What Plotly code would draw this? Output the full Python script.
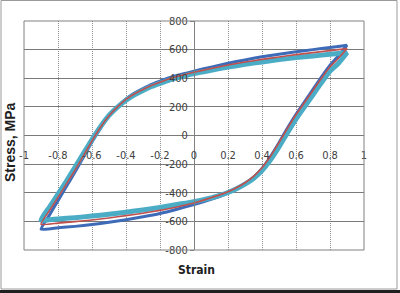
import plotly.graph_objects as go

# ---- data ----
x_up = [-0.9,-0.85,-0.8,-0.75,-0.7,-0.65,-0.6,-0.55,-0.5,-0.45,-0.4,-0.35,-0.3,-0.25,-0.2,-0.15,-0.1,0,0.1,0.2,0.3,0.4,0.5,0.6,0.7,0.8,0.9]
x_dn = [0.9,0.85,0.8,0.75,0.7,0.65,0.6,0.55,0.5,0.45,0.4,0.35,0.3,0.25,0.2,0.15,0.1,0,-0.1,-0.2,-0.3,-0.4,-0.5,-0.6,-0.7,-0.8,-0.9]

blue_up = [-655,-555,-455,-355,-255,-150,-45,50,135,200,255,296,328,357,380,402,420,450,478,505,528,550,568,585,600,615,630]
blue_dn = [630,558,492,410,322,235,148,52,-50,-147,-230,-292,-338,-374,-403,-426,-446,-482,-515,-545,-568,-588,-606,-622,-635,-645,-655]

red_up = [-620,-525,-432,-338,-242,-140,-38,58,138,200,252,292,322,350,372,395,412,442,468,492,513,532,549,565,579,593,608]
red_dn = [608,540,480,400,315,230,145,50,-50,-145,-225,-285,-330,-365,-393,-415,-435,-472,-500,-523,-543,-560,-576,-590,-602,-612,-620]

cyan_up = [-590,-500,-410,-318,-222,-125,-28,62,140,198,246,284,315,342,364,385,402,432,456,478,497,514,530,544,556,567,578]
cyan_dn = [578,505,450,370,285,200,115,20,-80,-170,-245,-300,-340,-372,-398,-418,-436,-462,-482,-502,-520,-536,-550,-563,-574,-583,-590]

x_ticks = [-1,-0.8,-0.6,-0.4,-0.2,0,0.2,0.4,0.6,0.8,1]
x_tick_text = ['-1','-0.8','-0.6','-0.4','-0.2','0','0.2','0.4','0.6','0.8','1']
y_ticks = [-800,-600,-400,-200,0,200,400,600,800]
y_tick_text = ['-800','-600','-400','-200','0','200','400','600','800']

series = [
    ("blue", blue_up, blue_dn, "#3E6BB8", 3),
    ("cyan", cyan_up, cyan_dn, "#4BACC6", 5),
    ("red", red_up, red_dn, "#C0504D", 1.6),
]

W, H = 400, 293
L, R, T, B = 24, 36, 21, 43
PW, PH = W - L - R, H - T - B

def px(x):
    return (x - L) / PW

def py(y):
    return (H - B - y) / PH

fig = go.Figure()
for name, up, dn, color, w in series:
    fig.add_trace(go.Scatter(x=x_up + x_dn, y=up + dn, mode="lines", name=name,
                             line=dict(color=color, width=w, shape="spline", smoothing=0.5)))

tick_font = dict(family="Liberation Sans Narrow, DejaVu Sans Condensed, Arial Narrow, sans-serif", size=11, color="#404040")

fig.update_layout(
    width=W, height=H, margin=dict(l=L, r=R, t=T, b=B),
    paper_bgcolor="white", plot_bgcolor="white", showlegend=False,
    xaxis=dict(range=[-1, 1], tickvals=x_ticks, ticktext=x_tick_text, anchor="free", position=0.45,
               showline=False, zeroline=False, showgrid=True, gridcolor="#909090", griddash="1px,1px",
               gridwidth=1, ticks="", tickfont=tick_font),
    yaxis=dict(range=[-800, 800], tickvals=y_ticks, ticktext=y_tick_text, anchor="free", position=0.5,
               showline=True, linecolor="#808080", linewidth=1, zeroline=False, showgrid=True,
               gridcolor="#7a7a7a", gridwidth=1, ticks="outside", ticklen=4, tickcolor="#808080",
               tickfont=tick_font),
    font=dict(family="Liberation Sans, Arial, sans-serif"),
)

# plot area frame
fig.add_shape(type="rect", xref="paper", yref="paper", x0=0, y0=0, x1=1, y1=1,
              line=dict(color="#808080", width=1), layer="above")
# outer picture frame
fig.add_shape(type="rect", xref="paper", yref="paper", x0=px(1), y0=py(289), x1=px(397), y1=py(0.5),
              line=dict(color="#9a9a9a", width=1))
fig.add_shape(type="line", xref="paper", yref="paper", x0=px(0), y0=py(291.5), x1=px(400), y1=py(291.5),
              line=dict(color="#202020", width=3))

fig.add_annotation(text="<b>Stress, MPa</b>", xref="paper", yref="paper", x=px(10), y=py(142),
                   xanchor="center", yanchor="middle", textangle=-90, showarrow=False,
                   font=dict(family="Liberation Sans, Arial, sans-serif", size=14, color="#202020"))
fig.add_annotation(text="<b>Strain</b>", xref="paper", yref="paper", x=px(196), y=py(270),
                   xanchor="center", yanchor="middle", showarrow=False,
                   font=dict(family="Liberation Sans Narrow, DejaVu Sans Condensed, sans-serif", size=12, color="#202020"))

fig.write_html("out.html")
